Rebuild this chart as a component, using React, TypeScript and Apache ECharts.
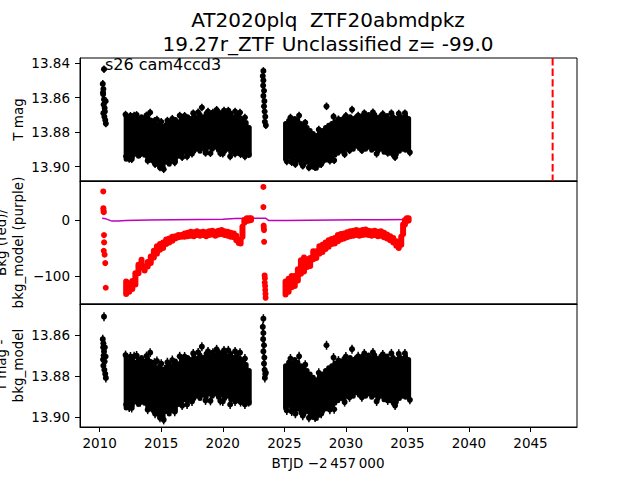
import React, { useEffect, useRef } from 'react';
import * as echarts from 'echarts';

// ---- axes ticks ----
const X_TICKS = [2010, 2015, 2020, 2025, 2030, 2035, 2040, 2045];
const MAG_TICKS_TOP = [13.84, 13.86, 13.88, 13.9];
const BKG_TICKS = [0, -100];
const MAG_TICKS_BOTTOM = [13.86, 13.88, 13.9];
const EVENT_T = 2046.8;

// ---- dense T mag band, sector part 1 (time, upper edge, lower edge) ----
const B_T = [2012.15, 2012.4, 2012.65, 2012.9, 2013.15, 2013.4, 2013.65, 2013.9, 2014.15, 2014.4, 2014.65, 2014.9, 2015.15, 2015.4, 2015.65, 2015.9, 2016.15, 2016.4, 2016.65, 2016.9, 2017.15, 2017.4, 2017.65, 2017.9, 2018.15, 2018.4, 2018.65, 2018.9, 2019.15, 2019.4, 2019.65, 2019.9, 2020.15, 2020.4, 2020.65, 2020.9, 2021.15, 2021.4, 2021.65, 2021.9, 2022.15];
const B_LO = [13.871, 13.8727, 13.8715, 13.8733, 13.872, 13.871, 13.8727, 13.8715, 13.873, 13.875, 13.876, 13.875, 13.8767, 13.8755, 13.874, 13.875, 13.8727, 13.874, 13.8715, 13.8727, 13.871, 13.872, 13.8703, 13.8715, 13.8698, 13.871, 13.869, 13.8703, 13.8686, 13.8698, 13.868, 13.869, 13.8686, 13.8703, 13.869, 13.871, 13.8698, 13.8715, 13.8727, 13.8744, 13.8773];
const B_HI = [13.8957, 13.8934, 13.8945, 13.8928, 13.894, 13.8922, 13.8934, 13.895, 13.8962, 13.8974, 13.8986, 13.8997, 13.9009, 13.8974, 13.8986, 13.8957, 13.8969, 13.894, 13.8928, 13.8917, 13.8922, 13.8905, 13.8911, 13.8899, 13.8911, 13.8894, 13.8905, 13.8888, 13.8899, 13.8888, 13.8905, 13.8894, 13.8911, 13.8899, 13.8917, 13.8905, 13.8922, 13.8911, 13.8928, 13.8917, 13.8934];

// ---- dense T mag band, sector part 2 ----
const D_T = [2025.1, 2025.35, 2025.6, 2025.85, 2026.1, 2026.35, 2026.6, 2026.85, 2027.1, 2027.35, 2027.6, 2027.85, 2028.1, 2028.35, 2028.6, 2028.85, 2029.1, 2029.35, 2029.6, 2029.85, 2030.1, 2030.35, 2030.6, 2030.85, 2031.1, 2031.35, 2031.6, 2031.85, 2032.1, 2032.35, 2032.6, 2032.85, 2033.1, 2033.35, 2033.6, 2033.85, 2034.1, 2034.35, 2034.6, 2034.85, 2035.1];
const D_LO = [13.875, 13.8733, 13.8738, 13.872, 13.8733, 13.875, 13.876, 13.8773, 13.879, 13.8807, 13.8819, 13.8802, 13.879, 13.8773, 13.876, 13.875, 13.8738, 13.8744, 13.8727, 13.8715, 13.8727, 13.871, 13.872, 13.871, 13.872, 13.8703, 13.8715, 13.8698, 13.871, 13.8698, 13.8715, 13.8703, 13.8715, 13.8703, 13.872, 13.871, 13.872, 13.8703, 13.8715, 13.8703, 13.872];
const D_HI = [13.8957, 13.8945, 13.8962, 13.8974, 13.8962, 13.898, 13.8986, 13.8974, 13.8992, 13.9003, 13.9009, 13.8992, 13.8974, 13.8962, 13.895, 13.8957, 13.8934, 13.8922, 13.8911, 13.8917, 13.8899, 13.8888, 13.8899, 13.8882, 13.8894, 13.8882, 13.8899, 13.8888, 13.8905, 13.8894, 13.8911, 13.8899, 13.8917, 13.8905, 13.8922, 13.8911, 13.8928, 13.8911, 13.8899, 13.8905, 13.8899];

// ---- outlying points along the edges of the dense parts ----
const SPIKE_T = [2012.1, 2012.15, 2012.8, 2012.6, 2013.3, 2014.1, 2014.25, 2014.65, 2015.2, 2015.5, 2015.7, 2016.5, 2017.1, 2018.3, 2019.0, 2019.2, 2019.8, 2020.45, 2020.6, 2021.4, 2021.45, 2022.1, 2025.2, 2025.6, 2026.2, 2027.5, 2028.43, 2029.0, 2029.05, 2029.9, 2030.5, 2031.0, 2034.0, 2034.3, 2035.2,
  2012.5, 2013.0, 2013.8, 2014.45, 2015.0, 2015.9, 2016.9, 2017.6, 2018.0, 2018.8, 2019.5, 2020.1, 2021.0, 2021.8, 2025.5, 2026.7, 2027.8, 2029.4, 2030.0, 2031.5, 2032.2, 2033.0, 2033.7, 2034.8,
  2012.4, 2013.9, 2014.5, 2014.9, 2016.1, 2016.7, 2017.5, 2018.6, 2020.0, 2021.0, 2021.8, 2025.9, 2026.5, 2027.0, 2028.0, 2028.7, 2030.3, 2031.3, 2032.5, 2033.4, 2033.9];
const SPIKE_M = [13.8698, 13.894, 13.8704, 13.8957, 13.8928, 13.8686, 13.8957, 13.8727, 13.9015, 13.8733, 13.8969, 13.8704, 13.894, 13.8657, 13.8922, 13.8686, 13.8922, 13.8675, 13.894, 13.8686, 13.8928, 13.8928, 13.8969, 13.8974, 13.8704, 13.9003, 13.865, 13.871, 13.8963, 13.8928, 13.8669, 13.8704, 13.8945, 13.8692, 13.8917,
  13.8705, 13.87, 13.8703, 13.8735, 13.874, 13.8722, 13.8705, 13.869, 13.8685, 13.868, 13.867, 13.8675, 13.868, 13.8715, 13.8715, 13.8745, 13.8785, 13.8725, 13.8705, 13.869, 13.8685, 13.8695, 13.869, 13.869,
  13.8955, 13.8965, 13.8985, 13.9005, 13.8975, 13.8945, 13.8925, 13.892, 13.8925, 13.8925, 13.894, 13.8985, 13.8995, 13.9005, 13.8985, 13.8965, 13.8905, 13.8905, 13.8925, 13.892, 13.8935];

// ---- sparse early points ----
const A_T = [2010.35, 2010.25, 2010.3, 2010.28, 2010.35, 2010.32, 2010.4, 2010.3, 2010.38, 2010.45, 2010.5, 2010.42, 2010.27, 2010.48];
const A_TOP_M = [13.8435, 13.852, 13.855, 13.858, 13.861, 13.864, 13.866, 13.869, 13.871, 13.873, 13.875, 13.868, 13.857, 13.862];
const A_BOT_M = [13.851, 13.862, 13.864, 13.866, 13.868, 13.87, 13.873, 13.875, 13.877, 13.879, 13.881, 13.866, 13.872, 13.8705];
const C_T = [2023.3, 2023.25, 2023.3, 2023.28, 2023.35, 2023.3, 2023.38, 2023.35, 2023.4, 2023.45, 2023.42, 2023.5];
const C_TOP_M = [13.8445, 13.8475, 13.85, 13.853, 13.856, 13.859, 13.862, 13.865, 13.868, 13.871, 13.874, 13.876];
const C_BOT_M = [13.852, 13.856, 13.859, 13.862, 13.865, 13.868, 13.871, 13.874, 13.877, 13.879, 13.881, 13.8785];
const MAG_ERR = 0.0022;

// ---- background (red) ----
const RED_A_T = [2010.29, 2010.3, 2010.31, 2010.33, 2010.35, 2010.36, 2010.33, 2010.4, 2010.45, 2010.49];
const RED_A_V = [51, 21, 17, 14, -27, -40, -55, -62, -77, -121];
const RED_C_T = [2023.3, 2023.3, 2023.32, 2023.33, 2023.35, 2023.36, 2023.4, 2023.42, 2023.41, 2023.44, 2023.45, 2023.47, 2023.48];
const RED_C_V = [59, 23, -10, -14, -18, -39, -99, -104, -112, -118, -125, -132, -139];
const RB_T = [2012.15, 2012.4, 2012.65, 2012.9, 2013.15, 2013.4, 2013.65, 2013.9, 2014.15, 2014.4, 2014.65, 2014.9, 2015.15, 2015.4, 2015.65, 2015.9, 2016.15, 2016.4, 2016.65, 2016.9, 2017.15, 2017.4, 2017.65, 2017.9, 2018.15, 2018.4, 2018.65, 2018.9, 2019.15, 2019.4, 2019.65, 2019.9, 2020.15, 2020.4, 2020.65, 2020.9, 2021.1, 2021.3, 2021.45, 2021.6, 2021.75, 2021.95, 2022.15, 2022.3];
const RB_LO = [-132, -128, -123, -115, -95, -85, -90, -83, -77, -67, -60, -53, -50, -43, -40, -37, -33, -31, -30, -30, -29, -28, -29, -27, -28, -27, -29, -27, -26, -28, -26, -25, -27, -28, -30, -31, -36, -41, -42, -30, -5, -2, -1, 0];
const RB_HI = [-110, -113, -109, -95, -80, -71, -83, -75, -65, -55, -47, -43, -40, -35, -33, -30, -29, -27, -27, -24, -23, -21, -22, -20, -22, -21, -22, -20, -19, -21, -19, -18, -20, -21, -23, -24, -28, -36, -35, -12, 0, 3, 3, 3];
const RD_T = [2025.1, 2025.35, 2025.6, 2025.85, 2026.1, 2026.35, 2026.6, 2026.85, 2027.1, 2027.35, 2027.6, 2027.85, 2028.1, 2028.35, 2028.6, 2028.85, 2029.1, 2029.35, 2029.6, 2029.85, 2030.1, 2030.35, 2030.6, 2030.85, 2031.1, 2031.35, 2031.6, 2031.85, 2032.1, 2032.35, 2032.6, 2032.85, 2033.1, 2033.35, 2033.6, 2033.85, 2034.1, 2034.3, 2034.5, 2034.65, 2034.8, 2034.95, 2035.1];
const RD_LO = [-133, -128, -120, -118, -108, -96, -92, -84, -82, -70, -68, -60, -57, -52, -48, -43, -42, -38, -35, -33, -31, -29, -28, -27, -28, -27, -26, -27, -28, -27, -29, -28, -31, -33, -36, -40, -46, -50, -44, -25, -8, -2, -1];
const RD_HI = [-110, -105, -100, -100, -88, -72, -67, -70, -68, -56, -56, -47, -44, -40, -36, -34, -32, -27, -25, -24, -22, -20, -19, -18, -19, -18, -17, -19, -20, -19, -21, -20, -23, -26, -29, -32, -38, -41, -30, -8, 0, 3, 3];

// ---- background model (purple) ----
const PURPLE_T = [2010.2, 2010.5, 2011.0, 2011.5, 2012.1, 2014.0, 2016.0, 2018.0, 2020.0, 2021.0, 2022.3, 2023.5, 2023.75, 2025.1, 2027.0, 2029.0, 2031.0, 2033.0, 2035.1];
const PURPLE_V = [3, 2, -2, -2, -1, 0, 0.5, 1, 1.5, 2.5, 3, 3, -1, -1, -0.5, 0, 0.5, 0.5, 1];

const FONT = 'DejaVu Sans';
const X_MIN = 2008.4;
const X_MAX = 2048.78;

const zip3 = (a: number[], b: number[], c: number[]) => a.map((v, i) => [v, b[i], c[i]]);
const zipErr = (a: number[], b: number[], e: number) => a.map((v, i) => [v, b[i], e]);
const zip2 = (a: number[], b: number[]) => a.map((v, i) => [v, b[i]]);

const bandRender = (color: string, width: number) => (_p: any, api: any) => {
  const t = api.value(0);
  const a = api.coord([t, api.value(1)]);
  const b = api.coord([t, api.value(2)]);
  return {
    type: 'line',
    shape: { x1: a[0], y1: a[1], x2: b[0], y2: b[1] },
    style: { stroke: color, lineWidth: width, lineCap: 'round' },
  };
};

const errRender = (color: string, r: number) => (_p: any, api: any) => {
  const t = api.value(0);
  const m = api.value(1);
  const e = api.value(2);
  const p = api.coord([t, m]);
  const a = api.coord([t, m - e]);
  const b = api.coord([t, m + e]);
  return {
    type: 'group',
    children: [
      { type: 'line', shape: { x1: a[0], y1: a[1], x2: b[0], y2: b[1] }, style: { stroke: color, lineWidth: 1.5 } },
      { type: 'circle', shape: { cx: p[0], cy: p[1], r }, style: { fill: color } },
    ],
  };
};

const label = (text: string, x: number, y: number, size: number, rotation = 0, extra: any = {}) => ({
  type: 'text',
  x,
  y,
  rotation,
  z: 100,
  style: {
    text,
    fontFamily: FONT,
    fontSize: size,
    fill: '#000',
    align: 'center',
    verticalAlign: 'middle',
    textAlign: 'center',
    textVerticalAlign: 'middle',
    ...extra,
  },
});

export default function App() {
  const ref = useRef<HTMLDivElement>(null);
  useEffect(() => {
    document.body.style.margin = '0';
    if (!ref.current) return;
    const chart = echarts.init(ref.current, null, { renderer: 'svg' });
    const grids = [58, 181, 304].map((top) => ({
      left: 80,
      right: 63,
      top,
      height: 123,
      show: true,
      borderColor: '#000',
      borderWidth: 1,
      backgroundColor: 'transparent',
    }));
    const xAxes = [0, 1, 2].map((i) => ({
      type: 'value',
      gridIndex: i,
      min: X_MIN,
      max: X_MAX,
      axisLine: { show: true, onZero: false, lineStyle: { color: '#000', width: 1 } },
      splitLine: { show: false },
      axisTick:
        i === 2
          ? { show: true, customValues: X_TICKS, length: 5, lineStyle: { color: '#000', width: 1 } }
          : { show: false },
      axisLabel:
        i === 2
          ? {
              show: true,
              customValues: X_TICKS,
              margin: 9,
              color: '#000',
              fontFamily: FONT,
              fontSize: 13.5,
              formatter: (v: number) => String(Math.round(v)),
            }
          : { show: false },
    }));
    const yCommon = {
      type: 'value',
      axisLine: { show: true, onZero: false, lineStyle: { color: '#000', width: 1 } },
      splitLine: { show: false },
    };
    const yAxes = [
      {
        ...yCommon,
        gridIndex: 0,
        inverse: true,
        min: 13.837,
        max: 13.9083,
        axisTick: { show: true, customValues: MAG_TICKS_TOP, length: 5, lineStyle: { color: '#000' } },
        axisLabel: {
          customValues: MAG_TICKS_TOP,
          margin: 10,
          color: '#000',
          fontFamily: FONT,
          fontSize: 13.5,
          formatter: (v: number) => v.toFixed(2),
        },
      },
      {
        ...yCommon,
        gridIndex: 1,
        min: -150,
        max: 69.6,
        axisTick: { show: true, customValues: BKG_TICKS, length: 5, lineStyle: { color: '#000' } },
        axisLabel: {
          customValues: BKG_TICKS,
          margin: 10,
          color: '#000',
          fontFamily: FONT,
          fontSize: 13.5,
          formatter: (v: number) => (v < 0 ? '\u2212' + Math.abs(v) : String(v)),
        },
      },
      {
        ...yCommon,
        gridIndex: 2,
        inverse: true,
        min: 13.8448,
        max: 13.905,
        axisTick: { show: true, customValues: MAG_TICKS_BOTTOM, length: 5, lineStyle: { color: '#000' } },
        axisLabel: {
          customValues: MAG_TICKS_BOTTOM,
          margin: 10,
          color: '#000',
          fontFamily: FONT,
          fontSize: 13.5,
          formatter: (v: number) => v.toFixed(2),
        },
      },
    ];

    const magSeries = (idx: number, aM: number[], cM: number[]) => [
      {
        type: 'custom',
        xAxisIndex: idx,
        yAxisIndex: idx,
        clip: true,
        renderItem: bandRender('#000', 5),
        encode: { x: 0, y: [1, 2] },
        data: [...zip3(B_T, B_LO, B_HI), ...zip3(D_T, D_LO, D_HI)],
      },
      {
        type: 'custom',
        xAxisIndex: idx,
        yAxisIndex: idx,
        clip: true,
        renderItem: errRender('#000', 3),
        encode: { x: 0, y: 1 },
        data: [
          ...zipErr(SPIKE_T, SPIKE_M, MAG_ERR),
          ...zipErr(A_T, aM, MAG_ERR),
          ...zipErr(C_T, cM, MAG_ERR),
        ],
      },
    ];

    chart.setOption({
      animation: false,
      grid: grids,
      xAxis: xAxes,
      yAxis: yAxes,
      series: [
        ...magSeries(0, A_TOP_M, C_TOP_M),
        {
          type: 'line',
          xAxisIndex: 0,
          yAxisIndex: 0,
          symbol: 'none',
          data: [
            [EVENT_T, 13.837],
            [EVENT_T, 13.9083],
          ],
          lineStyle: { color: '#ff0000', width: 2, type: [7.4, 3.2] },
        },
        {
          type: 'line',
          xAxisIndex: 1,
          yAxisIndex: 1,
          symbol: 'none',
          data: zip2(PURPLE_T, PURPLE_V),
          lineStyle: { color: '#bf00bf', width: 1.5 },
          z: 2,
        },
        {
          type: 'custom',
          xAxisIndex: 1,
          yAxisIndex: 1,
          clip: true,
          renderItem: bandRender('#ff0000', 6),
          encode: { x: 0, y: [1, 2] },
          data: [...zip3(RB_T, RB_LO, RB_HI), ...zip3(RD_T, RD_LO, RD_HI)],
          z: 3,
        },
        {
          type: 'scatter',
          xAxisIndex: 1,
          yAxisIndex: 1,
          symbol: 'circle',
          symbolSize: 6,
          itemStyle: { color: '#ff0000', opacity: 1 },
          data: [...zip2(RED_A_T, RED_A_V), ...zip2(RED_C_T, RED_C_V)],
          z: 3,
        },
        ...magSeries(2, A_BOT_M, C_BOT_M),
      ],
      graphic: [
        label('AT2020plq  ZTF20abmdpkz', 328, 19.5, 20),
        label('19.27r_ZTF Unclassified z= -99.0', 328, 44, 20),
        label('s26 cam4ccd3', 105, 64.5, 16, 0, { align: 'left', textAlign: 'left' }),
        label('T mag', 18, 119.5, 13.5, Math.PI / 2),
        label('Bkg (red)/\nbkg_model (purple)', 9.5, 242.5, 13.5, Math.PI / 2, { lineHeight: 16.5 }),
        label('T mag -\nbkg_model', 9.5, 365.5, 13.5, Math.PI / 2, { lineHeight: 16.5 }),
        label('BTJD \u22122\u2009457\u2009000', 328, 463, 13.5),
      ],
    });
    return () => chart.dispose();
  }, []);
  return <div ref={ref} style={{ width: 640, height: 480 }} />;
}
